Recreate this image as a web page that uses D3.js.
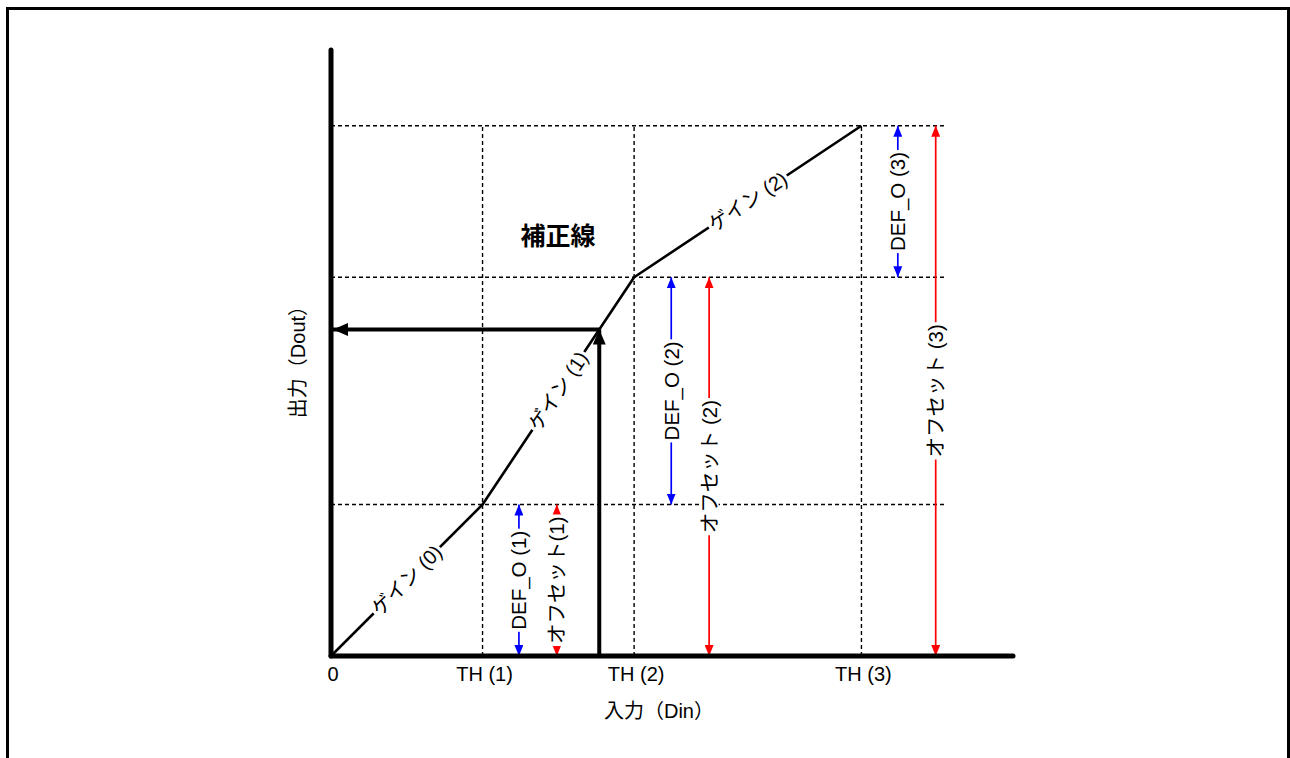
<!DOCTYPE html>
<html>
<head>
<meta charset="utf-8">
<script src="https://cdn.jsdelivr.net/npm/d3@7"></script>
<style>
  html, body { margin: 0; padding: 0; background: #fff; }
  svg { display: block; }
  text { font-family: "Liberation Sans", Arial, "Noto Sans CJK JP", sans-serif; }
</style>
</head>
<body>
<svg id="chart" width="1290" height="758"></svg>
<script>
// Correction curve: break points in input (Din) and output (Dout) units
const breakIn  = [0, 1, 2, 3.5];
const breakOut = [0, 1, 2.5, 3.5];
const tickLabels = ["0", "TH (1)", "TH (2)", "TH (3)"];
const gainLabels = ["ゲイン (0)", "ゲイン (1)", "ゲイン (2)"];
// DEF_O (step between consecutive break outputs) and offset (from 0) dimension arrows
const defOLabels = ["DEF_O (1)", "DEF_O (2)", "DEF_O (3)"];
const defOX = [1.24, 2.245, 3.74];
const offsetLabels = ["オフセット(1)", "オフセット (2)", "オフセット (3)"];
const offsetX = [1.49, 2.495, 3.99];
// Example input value traced through the curve
const sampleIn = 1.77;
const guideEnd = 4.05;

const svg = d3.select("#chart");
const x = d3.scaleLinear().domain([0, 4.5]).range([331, 1013]);
const y = d3.scaleLinear().domain([0, 4]).range([656, 50]);

// outer frame
svg.append("rect").attr("x", 7.5).attr("y", 8.5).attr("width", 1281).attr("height", 800)
  .attr("fill", "none").attr("stroke", "#000").attr("stroke-width", 3);

// markers
const defs = svg.append("defs");
function marker(id, color, w, l) {
  defs.append("marker").attr("id", id).attr("markerUnits", "userSpaceOnUse")
    .attr("viewBox", `0 ${-w / 2} ${l} ${w}`).attr("refX", l).attr("refY", 0)
    .attr("markerWidth", l).attr("markerHeight", w).attr("orient", "auto-start-reverse")
    .append("path").attr("d", `M0,${-w / 2}L${l},0L0,${w / 2}Z`).attr("fill", color);
}
marker("arBlue", "#0000ff", 9, 11);
marker("arRed", "#ff0000", 9, 11);
marker("arBlack", "#000", 13, 15);

// dashed guides
const g = svg.append("g");
breakOut.slice(1).forEach(v => {
  g.append("line").attr("x1", x(0)).attr("x2", x(guideEnd)).attr("y1", y(v)).attr("y2", y(v))
    .attr("stroke", "#000").attr("stroke-width", 1.4).attr("stroke-dasharray", "4,3");
});
breakIn.slice(1).forEach(v => {
  g.append("line").attr("x1", x(v)).attr("x2", x(v)).attr("y1", y(0)).attr("y2", y(breakOut[3]))
    .attr("stroke", "#000").attr("stroke-width", 1.4).attr("stroke-dasharray", "4,3");
});

// text with white knock-out behind it
function label(parent, txt, cx, cy, angle, size, weight) {
  const gg = parent.append("g").attr("transform", `translate(${cx},${cy}) rotate(${angle})`);
  const bg = gg.append("rect").attr("fill", "#fff");
  const t = gg.append("text").attr("text-anchor", "middle").attr("dominant-baseline", "central")
    .attr("font-size", size).attr("font-weight", weight || "normal").text(txt);
  const b = t.node().getBBox();
  bg.attr("x", b.x - 2).attr("y", b.y + 2).attr("width", b.width + 4).attr("height", b.height - 4);
  return gg;
}

// correction curve
const pts = breakIn.map((v, i) => [x(v), y(breakOut[i])]);
svg.append("path").attr("d", d3.line()(pts)).attr("fill", "none")
  .attr("stroke", "#000").attr("stroke-width", 2.6).attr("stroke-linejoin", "round");
gainLabels.forEach((txt, i) => {
  const [x0, y0] = pts[i], [x1, y1] = pts[i + 1];
  const ang = Math.atan2(y1 - y0, x1 - x0) * 180 / Math.PI;
  label(svg, txt, (x0 + x1) / 2, (y0 + y1) / 2, ang, 20);
});

// dimension arrows
function dimArrow(xv, from, to, color, id, txt) {
  svg.append("line").attr("x1", x(xv)).attr("x2", x(xv)).attr("y1", y(from)).attr("y2", y(to))
    .attr("stroke", color).attr("stroke-width", 1.7)
    .attr("marker-start", `url(#${id})`).attr("marker-end", `url(#${id})`);
  label(svg, txt, x(xv), (y(from) + y(to)) / 2, -90, 20.5);
}
defOLabels.forEach((txt, i) => dimArrow(defOX[i], breakOut[i], breakOut[i + 1], "#0000ff", "arBlue", txt));
offsetLabels.forEach((txt, i) => dimArrow(offsetX[i], 0, breakOut[i + 1], "#ff0000", "arRed", txt));

// example input traced to output
const seg = breakIn.findIndex((v, i) => sampleIn >= v && sampleIn <= breakIn[i + 1]);
const sampleOut = breakOut[seg] + (sampleIn - breakIn[seg]) *
  (breakOut[seg + 1] - breakOut[seg]) / (breakIn[seg + 1] - breakIn[seg]);
svg.append("line").attr("x1", x(sampleIn)).attr("x2", x(sampleIn)).attr("y1", y(0)).attr("y2", y(sampleOut))
  .attr("stroke", "#000").attr("stroke-width", 4).attr("marker-end", "url(#arBlack)");
svg.append("line").attr("x1", x(sampleIn)).attr("x2", x(0) + 2).attr("y1", y(sampleOut)).attr("y2", y(sampleOut))
  .attr("stroke", "#000").attr("stroke-width", 4).attr("marker-end", "url(#arBlack)");

// axes
svg.append("line").attr("x1", x(0)).attr("x2", x(0)).attr("y1", y(0)).attr("y2", y(4))
  .attr("stroke", "#000").attr("stroke-width", 5).attr("stroke-linecap", "round");
svg.append("line").attr("x1", x(0)).attr("x2", x(4.5)).attr("y1", y(0)).attr("y2", y(0))
  .attr("stroke", "#000").attr("stroke-width", 5).attr("stroke-linecap", "round");

// tick labels
svg.append("g").selectAll("text").data(breakIn).join("text")
  .attr("x", d => x(d) + 2).attr("y", 681)
  .attr("text-anchor", "middle").attr("font-size", 20)
  .text((d, i) => tickLabels[i]);

// axis titles and chart title
svg.append("text").attr("x", 659).attr("y", 718).attr("text-anchor", "middle")
  .attr("font-size", 20).text("入力（Din）");
svg.append("text").attr("transform", `translate(305,357) rotate(-90)`).attr("text-anchor", "middle")
  .attr("font-size", 20).text("出力（Dout）");
svg.append("text").attr("x", 558).attr("y", 245).attr("text-anchor", "middle")
  .attr("font-size", 25).attr("font-weight", "bold").text("補正線");
</script>
</body>
</html>
